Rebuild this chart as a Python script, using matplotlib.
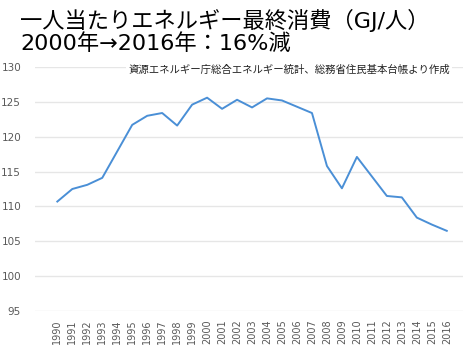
import matplotlib
matplotlib.use("Agg")
import matplotlib.pyplot as plt

plt.rcParams['font.family'] = ['DejaVu Sans', 'Noto Sans CJK JP']

years = [str(y) for y in range(1990, 2017)]
values = [110.7, 112.5, 113.1, 114.1, 117.9, 121.7, 123.0, 123.4, 121.6, 124.6,
          125.6, 124.0, 125.3, 124.2, 125.5, 125.2, 124.3, 123.4, 115.8, 112.6,
          117.1, 114.3, 111.5, 111.3, 108.4, 107.4, 106.5]
yticks = [95, 100, 105, 110, 115, 120, 125, 130]
title1 = "一人当たりエネルギー最終消費（GJ/人）"
title2 = "2000年→2016年：16%減"
source = "資源エネルギー庁総合エネルギー統計、総務省住民基本台帳より作成"

fig = plt.figure(figsize=(4.64, 3.45), dpi=100)
ax = fig.add_axes([35/464, 1-311/345, 1-35/464, (311-67)/345])

x = list(range(len(years)))
ax.plot(x, values, color='#4a8fd6', lw=1.4, zorder=3)

ax.set_ylim(95, 130)
ax.set_yticks(yticks)
ax.set_yticklabels([str(t) for t in yticks], fontsize=7.5, color='#595959')
ax.set_xlim(-1.49, len(years) - 1 + 1.15)
ax.set_xticks(x)
ax.set_xticklabels(years, rotation=90, fontsize=7, color='#595959')
ax.tick_params(axis='both', length=0)
ax.tick_params(axis='y', pad=10)
ax.tick_params(axis='x', pad=6)
ax.grid(axis='y', color='#e6e6e6', lw=1.0, zorder=0)
for s in ax.spines.values():
    s.set_visible(False)

ax.text(0.967, 129.6, source, transform=ax.get_yaxis_transform(), ha='right', va='center',
        fontsize=7.5, color='#222222', zorder=4, family=['Noto Sans CJK JP'],
        bbox=dict(facecolor='white', edgecolor='none', pad=1.5))

fig.text(20/464, 1-28/345, title1, fontsize=16, color='black', ha='left', va='baseline')
fig.text(20/464, 1-50/345, title2, fontsize=16, color='black', ha='left', va='baseline')

fig.savefig("out.png", dpi=100)
